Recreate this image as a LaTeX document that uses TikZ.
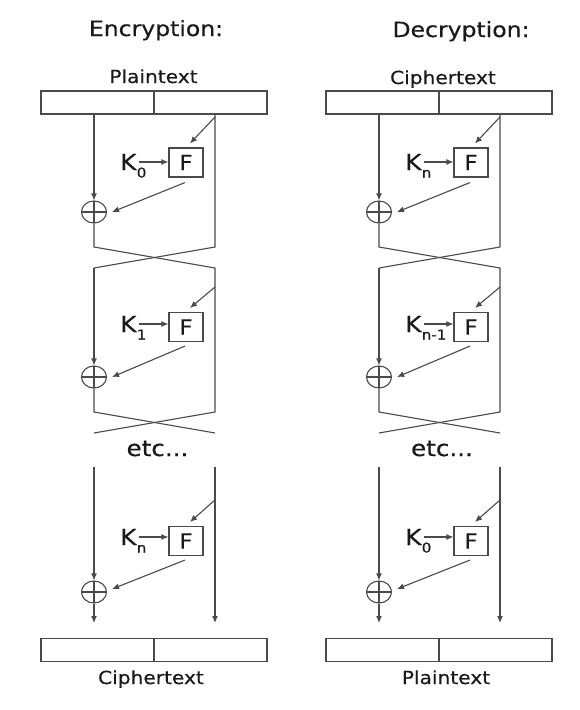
\documentclass[tikz,border=0pt]{standalone}
\usepackage{fontspec}
\setmainfont[FakeBold=0.35]{DejaVu Sans}
\usepackage{graphicx}
\usetikzlibrary{arrows.meta,calc,shapes.geometric}
\definecolor{lc}{HTML}{4A4A4A}
\definecolor{tc}{HTML}{1A1A1A}
\newcommand\sx[1]{\scalebox{1.12}[1]{#1}}
\tikzset{
 ln/.style={draw=lc, line width=1.1pt},
 arr/.style={ln, -{Latex[length=7pt,width=6pt]}},
 half/.style={draw=lc, line width=1.1pt, minimum width=113pt, minimum height=23pt, inner sep=0pt},
 fbox/.style={draw=lc, line width=1.1pt, minimum width=34pt, minimum height=29pt, inner sep=0pt, text=tc, font=\fontsize{21}{21}\selectfont},
 xor/.style={ellipse, draw=lc, line width=1.1pt, minimum width=25pt, minimum height=22pt, inner sep=0pt,
   path picture={\draw[lc, line width=1.1pt] (path picture bounding box.north) -- (path picture bounding box.south)
     (path picture bounding box.west) -- (path picture bounding box.east);}},
 ktxt/.style={inner sep=2pt, anchor=base west, text=tc, font=\fontsize{22}{22}\selectfont},
 ksub/.style={inner sep=0pt, anchor=base west, text=tc, font=\fontsize{13.5}{13.5}\selectfont},
 title/.style={anchor=base, inner sep=0pt, text=tc, font=\fontsize{21}{21}\selectfont},
 lab/.style={anchor=base, inner sep=0pt, text=tc, font=\fontsize{18}{18}\selectfont},
 etcs/.style={anchor=base, inner sep=0pt, text=tc, font=\fontsize{22}{22}\selectfont},
}
% #1 prefix, #2 xshift, #3 #4 #5 key subscripts
\newcommand\feistelside[5]{%
\begin{scope}[xshift=#2pt]
 \node[half] (#1tl) at (97.5,102.5) {};
 \node[half] (#1tr) at (210.5,102.5) {};
 \node[half] (#1bl) at (97.5,650) {};
 \node[half] (#1br) at (210.5,650) {};
 % round 1
 \node[fbox] (#1f1) at (186,162.5) {\sx{F}};
 \node[xor] (#1x1) at (94,212) {};
 \node[ktxt] (#1k1) at (118,170) {\sx{K}};
 \node[ksub, xshift=-2pt, yshift=-7.5pt] (#1s1) at (#1k1.base east) {\sx{#3}};
 % round 2
 \node[fbox] (#1f2) at (186,327) {\sx{F}};
 \node[xor] (#1x2) at (94,377) {};
 \node[ktxt] (#1k2) at (118,332) {\sx{K}};
 \node[ksub, xshift=-2pt, yshift=-7.5pt] (#1s2) at (#1k2.base east) {\sx{#4}};
 % round n
 \node[fbox] (#1f3) at (186,541) {\sx{F}};
 \node[xor] (#1x3) at (94,592) {};
 \node[ktxt] (#1k3) at (118,545) {\sx{K}};
 \node[ksub, xshift=-2pt, yshift=-7.5pt] (#1s3) at (#1k3.base east) {\sx{#5}};
 % line coordinates
 \coordinate (#1c1) at (94,247);  \coordinate (#1d1) at (215,247);
 \coordinate (#1c2) at (94,268);  \coordinate (#1d2) at (215,268);
 \coordinate (#1c3) at (94,412);  \coordinate (#1d3) at (215,412);
 \coordinate (#1c4) at (94,433);  \coordinate (#1d4) at (215,433);
 \coordinate (#1c5) at (94,467);  \coordinate (#1d5) at (215,467);
 \coordinate (#1c6) at (94,623);  \coordinate (#1d6) at (215,623);
 \coordinate (#1p1) at (215,117); \coordinate (#1p2) at (215,287); \coordinate (#1p3) at (215,500);
 % main lines
 \draw[arr] (#1tl.south -| #1c1) -- (#1x1.north);
 \draw[ln] (#1x1.south) -- (#1c1) -- (#1d2) -- (#1d3) -- (#1c4);
 \draw[ln] (#1tr.south -| #1d1) -- (#1d1) -- (#1c2);
 \draw[arr] (#1c2) -- (#1x2.north);
 \draw[ln] (#1x2.south) -- (#1c3) -- (#1d4);
 \draw[arr] (#1c5) -- (#1x3.north);
 \draw[arr] (#1x3.south) -- (#1c6);
 \draw[arr] (#1d5) -- (#1d6);
 % F inputs, keys and outputs
 \draw[arr] (#1p1) -- ($(#1f1.north)+(4,-4)$);
 \draw[arr] (#1p2) -- ($(#1f2.north)+(4,-4)$);
 \draw[arr] (#1p3) -- ($(#1f3.north)+(4,-4)$);
 \draw[arr] (#1k1.east) -- (#1k1.east -| #1f1.west);
 \draw[arr] (#1k2.east) -- (#1k2.east -| #1f2.west);
 \draw[arr] (#1k3.east) -- (#1k3.east -| #1f3.west);
 \draw[arr] ($(#1f1.south)+(-1,5)$) -- ($(#1x1.east)+(5,0)$);
 \draw[arr] ($(#1f2.south)+(-1,4)$) -- ($(#1x2.east)+(5,0)$);
 \draw[arr] ($(#1f3.south)+(-1,4)$) -- ($(#1x3.east)+(5,-3)$);
\end{scope}}
\begin{document}
\begin{tikzpicture}[x=1pt,y=-1pt]
 \fill[white] (0,0) rectangle (580,710);
 \useasboundingbox (0,0) rectangle (580,710);
 \node[title] (enc) at (156,36) {\sx{Encryption:}};
 \node[title] (dec) at (461,37) {\sx{Decryption:}};
 \node[lab] (ept) at (153.5,83) {\sx{Plaintext}};
 \node[lab] (dct) at (443,84) {\sx{Ciphertext}};
 \node[lab] (ect) at (151,684) {\sx{Ciphertext}};
 \node[lab] (dpt) at (446,684) {\sx{Plaintext}};
 \node[etcs] (eetc) at (157.5,456) {\sx{etc...}};
 \node[etcs] (detc) at (442,456) {\sx{etc...}};
 \feistelside{e}{0}{0}{1}{n}
 \feistelside{d}{285}{n}{n-1}{0}
\end{tikzpicture}
\end{document}
